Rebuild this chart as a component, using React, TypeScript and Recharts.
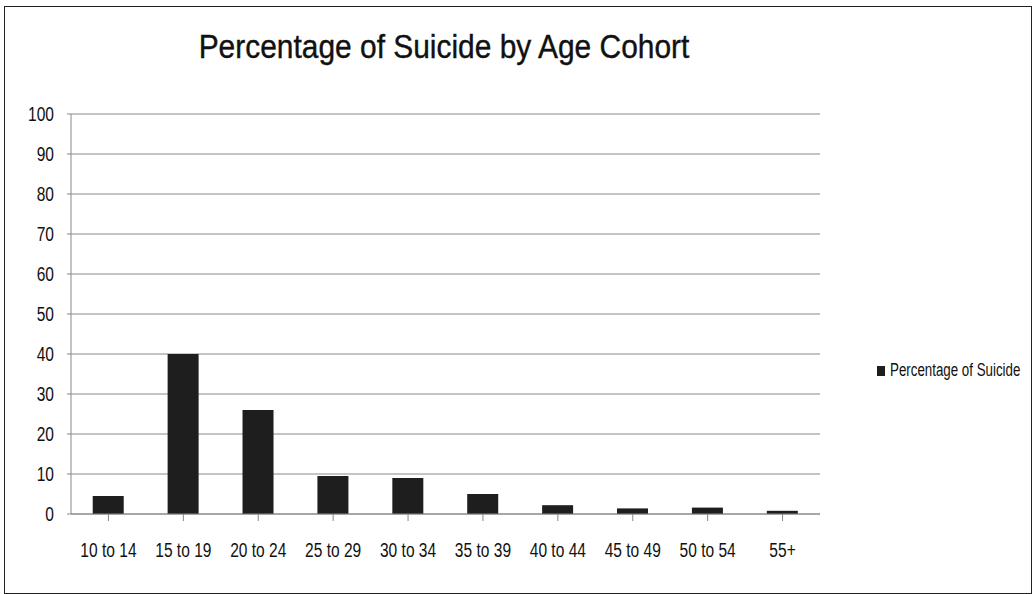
import { BarChart, Bar, XAxis, YAxis, CartesianGrid } from "recharts";

const cohorts = [
  "10 to 14",
  "15 to 19",
  "20 to 24",
  "25 to 29",
  "30 to 34",
  "35 to 39",
  "40 to 44",
  "45 to 49",
  "50 to 54",
  "55+",
];
const suicidePct = [4.5, 40, 26, 9.5, 9, 5, 2.2, 1.4, 1.6, 0.8];
const yTicks = [0, 10, 20, 30, 40, 50, 60, 70, 80, 90, 100];

const data = cohorts.map((c, i) => ({ cohort: c, pct: suicidePct[i] }));

const FONT = '"Liberation Sans", Arial, sans-serif';
// no narrow face installed, so squeeze the regular one horizontally
const SQUEEZE = 0.74;
const BAR_COLOR = "#1e1e1e";

type TickProps = {
  x: number;
  y: number;
  payload: { value: string | number };
  [arg: string]: unknown;
};

const renderXTick = ({ x, y, payload }: TickProps) => (
  <text
    transform={`translate(${x}, ${y + 34}) scale(${SQUEEZE}, 1)`}
    textAnchor="middle"
    fill="#111"
    fontFamily={FONT}
    fontSize={21}
  >
    {payload.value}
  </text>
);

const renderYTick = ({ x, y, payload }: TickProps) => (
  <text
    transform={`translate(${x - 11}, ${y + 7}) scale(${SQUEEZE}, 1)`}
    textAnchor="end"
    fill="#111"
    fontFamily={FONT}
    fontSize={21}
  >
    {payload.value}
  </text>
);

const App = () => {
  return (
    <div style={{ position: "absolute", left: 0, top: 0, width: 1034, height: 594, background: "#fff" }}>
      <div
        style={{
          position: "absolute",
          left: 4,
          top: 6,
          width: 1028,
          height: 588,
          border: "1.5px solid #222",
          boxSizing: "border-box",
        }}
      />
      <div
        style={{
          position: "absolute",
          left: 0,
          top: 27,
          width: 888,
          textAlign: "center",
          fontFamily: FONT,
          fontSize: 34,
          color: "#111",
          transform: "scaleX(0.88)",
          transformOrigin: "444px 0",
          whiteSpace: "nowrap",
          WebkitTextStroke: "0.4px #111",
        }}
      >
        Percentage of Suicide by Age Cohort
      </div>
      <div
        style={{
          position: "absolute",
          left: 877,
          top: 360,
          display: "flex",
          alignItems: "center",
          fontFamily: FONT,
          fontSize: 18,
          color: "#111",
          whiteSpace: "nowrap",
        }}
      >
        <span style={{ display: "inline-block", flexShrink: 0, width: 8, height: 10, background: BAR_COLOR, marginRight: 5 }} />
        <span style={{ display: "inline-block", transform: `scaleX(${SQUEEZE})`, transformOrigin: "left center" }}>
          Percentage of Suicide
        </span>
      </div>
      <BarChart
        width={1034}
        height={594}
        data={data}
        margin={{ top: 114, right: 214, left: 11, bottom: 50 }}
        barCategoryGap="29%"
      >
        <CartesianGrid vertical={false} stroke="#8a8a8a" strokeWidth={1} />
        <XAxis
          dataKey="cohort"
          interval={0}
          height={30}
          stroke="#888"
          tickLine={{ stroke: "#888" }}
          tickSize={7}
          tick={renderXTick}
        />
        <YAxis
          width={60}
          domain={[0, 100]}
          ticks={yTicks}
          interval={0}
          stroke="#888"
          tickSize={4}
          tick={renderYTick}
        />
        <Bar dataKey="pct" name="Percentage of Suicide" fill={BAR_COLOR} isAnimationActive={false} />
      </BarChart>
    </div>
  );
};

export default App;
